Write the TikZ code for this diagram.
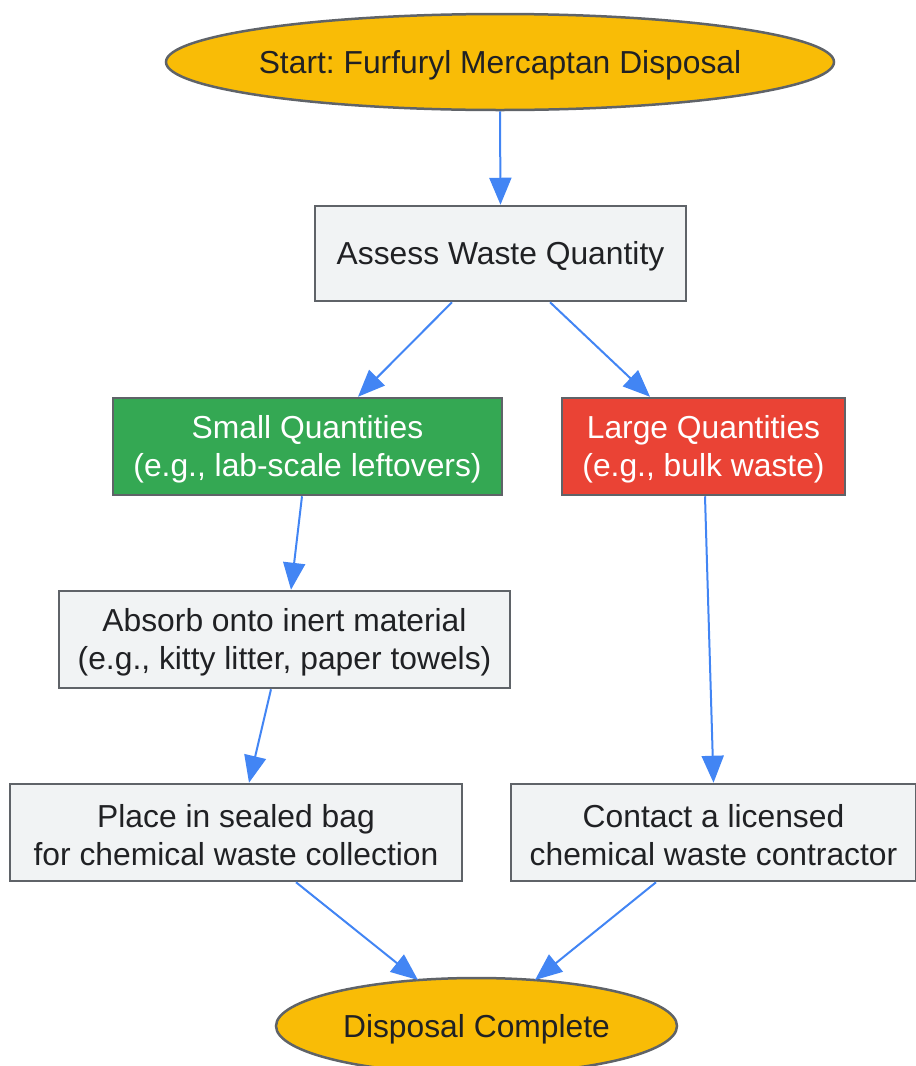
\documentclass[tikz,border=0pt]{standalone}
\usepackage{fontspec}
\setmainfont{Liberation Sans}
\frenchspacing
\usetikzlibrary{shapes.geometric,arrows.meta,calc}
\definecolor{boxfill}{HTML}{F1F3F4}
\definecolor{boxline}{HTML}{5F6368}
\definecolor{txtcol}{HTML}{202124}
\definecolor{gyellow}{HTML}{F9BC06}
\definecolor{ggreen}{HTML}{34A853}
\definecolor{gred}{HTML}{EA4335}
\definecolor{gblue}{HTML}{4285F4}
\begin{document}
\begin{tikzpicture}[x=1pt,y=-1pt,
  every node/.style={font=\fontsize{31.8}{38}\selectfont, text=txtcol, align=center, inner sep=0pt},
  procbox/.style={draw=boxline, line width=2.5pt, fill=boxfill, rectangle},
  term/.style={draw=boxline, line width=2.5pt, fill=gyellow, ellipse},
  lbl/.style={yshift=-3pt},
  conn/.style={draw=gblue, line width=2pt, -{Triangle[length=27pt,width=22pt]}}
]
\useasboundingbox (0,0) rectangle (916,1066);
\node[term, minimum width=668pt, minimum height=96pt] (start) at (500,62) {};
\node[lbl] (starttxt) at (start.center) {Start: Furfuryl Mercaptan Disposal};
\node[procbox, minimum width=371pt, minimum height=95pt] (assess) at (500.5,253.5) {};
\node[lbl] (assesstxt) at (assess.center) {Assess Waste Quantity};
\node[procbox, fill=ggreen, minimum width=389pt, minimum height=97pt] (small) at (307.5,446.5) {};
\node[lbl, text=white] (smalltxt) at (small.center) {Small Quantities\\(e.g., lab-scale leftovers)};
\node[procbox, fill=gred, minimum width=283pt, minimum height=97pt] (large) at (703.5,446.5) {};
\node[lbl, text=white] (largetxt) at (large.center) {Large Quantities\\(e.g., bulk waste)};
\node[procbox, minimum width=451pt, minimum height=97pt] (absorb) at (284.5,639.5) {};
\node[lbl] (absorbtxt) at (absorb.center) {Absorb onto inert material\\(e.g., kitty litter, paper towels)};
\node[procbox, minimum width=452pt, minimum height=97pt] (place) at (236,832.5) {};
\node[lbl] (placetxt) at (place.center) {Place in sealed bag\\for chemical waste collection};
\node[procbox, minimum width=405pt, minimum height=97pt] (contact) at (713.5,832.5) {};
\node[lbl] (contacttxt) at (contact.center) {Contact a licensed\\chemical waste contractor};
\node[term, minimum width=401pt, minimum height=96pt] (disp) at (476.5,1026) {};
\node[lbl] (disptxt) at (disp.center) {Disposal Complete};

\draw[conn] (start.south) -- (assess.north);
\draw[conn] ([xshift=-48.5pt]assess.south) -- ([xshift=50.5pt]small.north);
\draw[conn] ([xshift=49.5pt]assess.south) -- ([xshift=-53.5pt]large.north);
\draw[conn] ([xshift=-5.5pt]small.south) -- ([xshift=6.5pt]absorb.north);
\draw[conn] ([xshift=1.5pt]large.south) -- (contact.north);
\draw[conn] ([xshift=-13.5pt]absorb.south) -- ([xshift=13pt]place.north);
\draw[conn] ([xshift=60pt]place.south) -- ($(disp.center)+(-58.5,-46)$);
\draw[conn] ([xshift=-57.5pt]contact.south) -- ($(disp.center)+(58.5,-46)$);
\end{tikzpicture}
\end{document}
